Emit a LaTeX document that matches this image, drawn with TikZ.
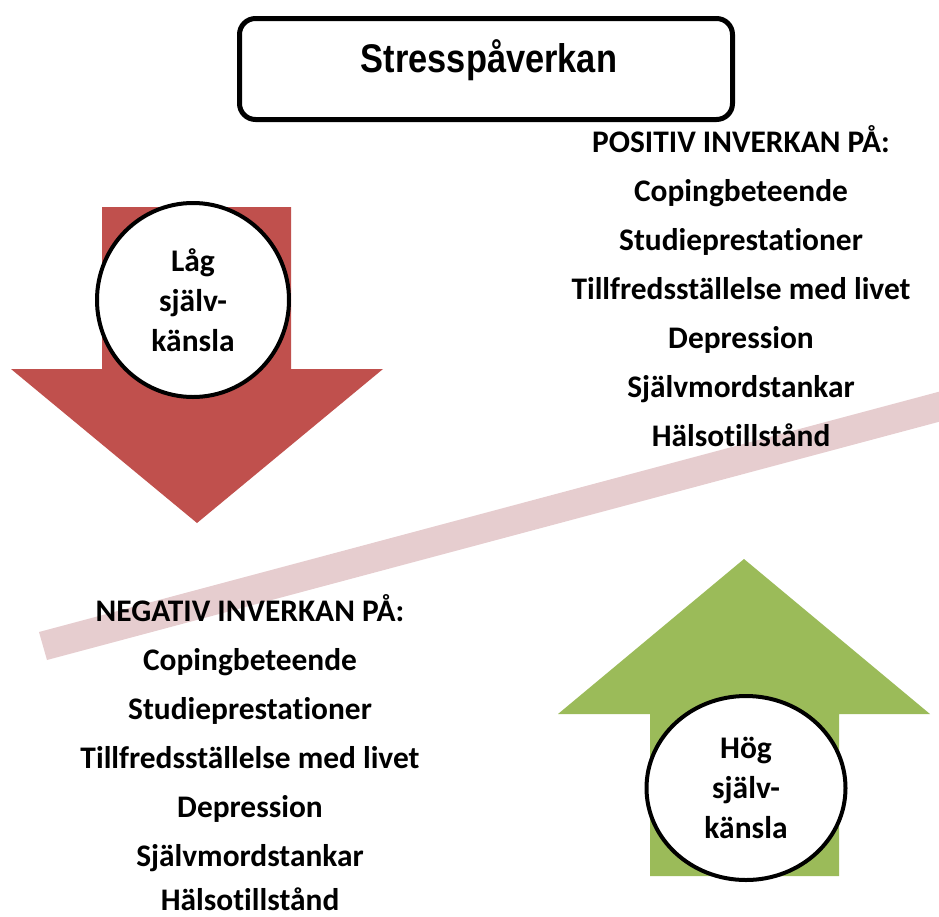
\documentclass[tikz,border=0pt]{standalone}
\usepackage{fontspec}
\setmainfont{Carlito}[Ligatures=NoCommon]
\newfontfamily\arialfont{Liberation Sans}
\usetikzlibrary{shapes.geometric}
\definecolor{lowred}{HTML}{C0504D}
\definecolor{highgreen}{HTML}{9BBB59}
\definecolor{bandpink}{HTML}{E6CDCF}
\tikzset{
  titlebox/.style={rectangle, draw, line width=5pt, rounded corners=16pt, minimum width=493pt, minimum height=101pt, inner sep=0pt},
  selfcircle/.style={ellipse, draw, line width=4pt, fill=white, inner sep=0pt, align=center, font=\fontsize{31.5}{40}\selectfont\bfseries},
  listline/.style={anchor=base, inner sep=0pt, font=\fontsize{31.4}{35}\selectfont\bfseries}
}
\begin{document}
\begin{tikzpicture}[x=1pt, y=-1pt]
\useasboundingbox (0,0) rectangle (939,916);

\fill [bandpink] (39,632) -- (939,391.7) -- (939,421.8) -- (47,660) -- cycle;

\fill [lowred] (102,207) -- (291,207) -- (291,369) -- (383,369) -- (197,523) -- (11,369) -- (102,369) -- cycle;
\fill [highgreen] (744,559) -- (930,714) -- (839,714) -- (839,876) -- (650,876) -- (650,714) -- (558,714) -- cycle;

\node [titlebox] (box) at (486,69) {};
\node [anchor=base, inner sep=0pt] (title) at (489,72) {\scalebox{0.86}[1]{\arialfont\fontsize{40}{40}\selectfont\bfseries Stresspåverkan}};

\node [selfcircle, minimum width=192pt, minimum height=194pt] (low) at (193,300) {Låg\\själv-\\känsla};
\node [selfcircle, minimum width=199pt, minimum height=184pt] (high) at (746,788) {Hög\\själv-\\känsla};

\node [listline] (pos) at (741,152) {POSITIV INVERKAN PÅ:};
\node [listline] (pos1) at (741,201) {Copingbeteende};
\node [listline] (pos2) at (741,250) {Studieprestationer};
\node [listline] (pos3) at (741,299) {Tillfredsställelse med livet};
\node [listline] (pos4) at (741,348) {Depression};
\node [listline] (pos5) at (741,397) {Självmordstankar};
\node [listline] (pos6) at (741,446) {Hälsotillstånd};

\node [listline] (neg) at (250,621) {NEGATIV INVERKAN PÅ:};
\node [listline] (neg1) at (250,670) {Copingbeteende};
\node [listline] (neg2) at (250,719) {Studieprestationer};
\node [listline] (neg3) at (250,768) {Tillfredsställelse med livet};
\node [listline] (neg4) at (250,817) {Depression};
\node [listline] (neg5) at (250,866) {Självmordstankar};
\node [listline] (neg6) at (250,910) {Hälsotillstånd};

\end{tikzpicture}
\end{document}
